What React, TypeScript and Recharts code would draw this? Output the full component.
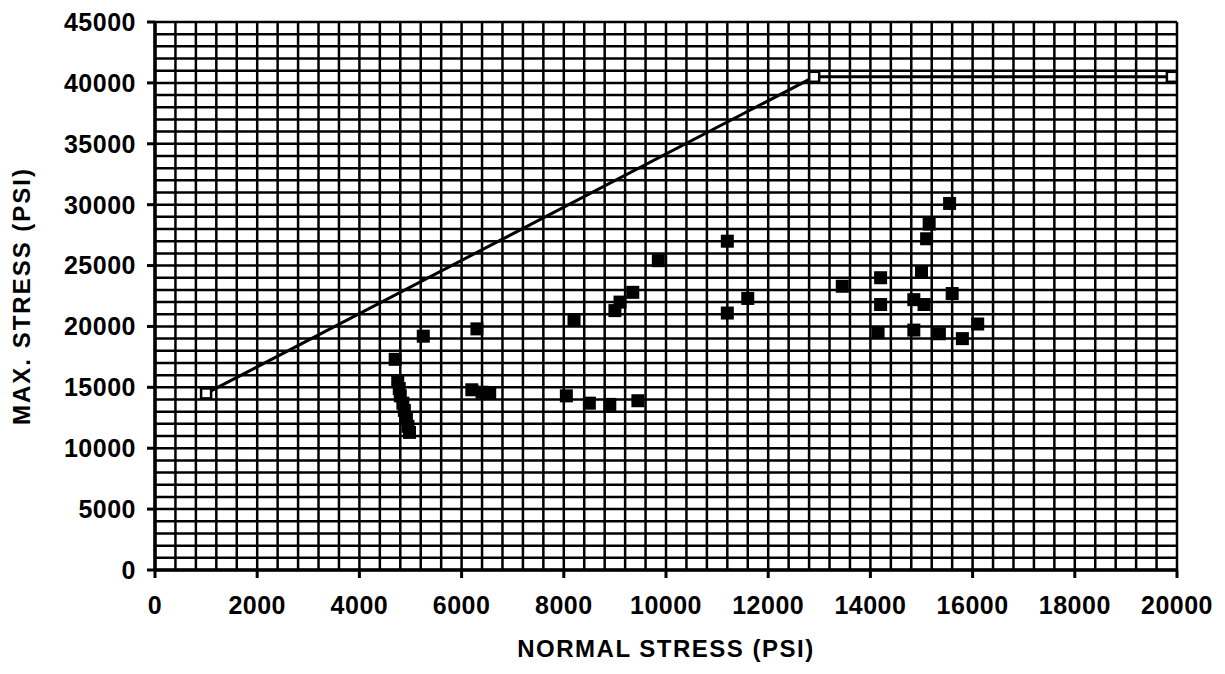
import React from 'react';
import { ScatterChart, Scatter, XAxis, YAxis, CartesianGrid, Label } from 'recharts';

// Envelope line (open square markers)
const envelopeX = [1000, 12900, 19900];
const envelopeY = [14500, 40500, 40500];

// Measured points (filled squares)
const pointX = [
  4700, 4750, 4780, 4800, 4850, 4880, 4920, 4950, 4980,
  5250, 6300, 6200, 6400, 6550,
  8050, 8500, 8900, 9450, 8200, 9000, 9100, 9350, 9850,
  11200, 11200, 11600,
  13450, 14200, 14200, 14150, 14850, 14850, 15050, 15000, 15100, 15150, 15550, 15600, 15350, 15800, 16100,
];
const pointY = [
  17300, 15500, 14900, 14300, 13700, 13100, 12400, 11800, 11300,
  19200, 19800, 14800, 14600, 14500,
  14300, 13700, 13600, 13900, 20500, 21300, 22000, 22800, 25400,
  27000, 21100, 22300,
  23300, 24000, 21800, 19500, 22200, 19700, 21800, 24500, 27200, 28400, 30100, 22700, 19400, 19000, 20200,
];

const xTicks = [0, 2000, 4000, 6000, 8000, 10000, 12000, 14000, 16000, 18000, 20000];
const yTicks = [0, 5000, 10000, 15000, 20000, 25000, 30000, 35000, 40000, 45000];
const xGrid = Array.from({ length: 51 }, (_, i) => i * 400);
const yGrid = Array.from({ length: 46 }, (_, i) => i * 1000);

const envelopeData = envelopeX.map((x, i) => ({ x, y: envelopeY[i] }));
const pointData = pointX.map((x, i) => ({ x, y: pointY[i] }));

const FONT = '"Liberation Sans", Arial, sans-serif';

const FilledSquare = (props: any) => {
  const { cx, cy } = props;
  if (cx == null || cy == null) return null;
  return <rect x={cx - 6.5} y={cy - 6.5} width={13} height={13} fill="#000" />;
};

const OpenSquare = (props: any) => {
  const { cx, cy } = props;
  if (cx == null || cy == null) return null;
  return <rect x={cx - 5} y={cy - 5} width={10} height={10} fill="#fff" stroke="#000" strokeWidth={2.5} />;
};

export default function App() {
  const tickStyle = { fontFamily: FONT, fontSize: 25, fontWeight: 700, fill: '#000', letterSpacing: 0.5 };
  const labelStyle = { fontFamily: FONT, fontSize: 24, fontWeight: 700, fill: '#000', letterSpacing: 1.5 };
  return (
    <div style={{ width: 1209, height: 658, background: '#fff' }}>
      <ScatterChart width={1209} height={658} margin={{ top: 14, right: 40, bottom: 6, left: 0 }}>
        <CartesianGrid
          stroke="#000"
          strokeWidth={2.5}
          horizontalValues={yGrid}
          verticalValues={xGrid}
          fill="#fff"
        />
        <XAxis
          type="number"
          dataKey="x"
          domain={[0, 20000]}
          ticks={xTicks}
          interval={0}
          height={90}
          tickSize={8}
          tickMargin={18}
          axisLine={{ stroke: '#000', strokeWidth: 3.5 }}
          tickLine={{ stroke: '#000', strokeWidth: 3 }}
          tick={tickStyle}
          allowDataOverflow
        >
          <Label value="NORMAL STRESS (PSI)" position="insideBottom" offset={3} style={labelStyle} />
        </XAxis>
        <YAxis
          type="number"
          dataKey="y"
          domain={[0, 45000]}
          ticks={yTicks}
          interval={0}
          width={147}
          tickSize={8}
          tickMargin={11}
          axisLine={{ stroke: '#000', strokeWidth: 3.5 }}
          tickLine={{ stroke: '#000', strokeWidth: 3 }}
          tick={tickStyle}
          allowDataOverflow
        >
          <Label
            value="MAX. STRESS (PSI)"
            angle={-90}
            position="insideLeft"
            offset={13}
            style={{ ...labelStyle, letterSpacing: 2, textAnchor: 'middle' }}
          />
        </YAxis>
        <Scatter
          data={envelopeData}
          line={{ stroke: '#000', strokeWidth: 3 }}
          shape={OpenSquare}
          isAnimationActive={false}
        />
        <Scatter data={pointData} shape={FilledSquare} isAnimationActive={false} />
      </ScatterChart>
    </div>
  );
}
